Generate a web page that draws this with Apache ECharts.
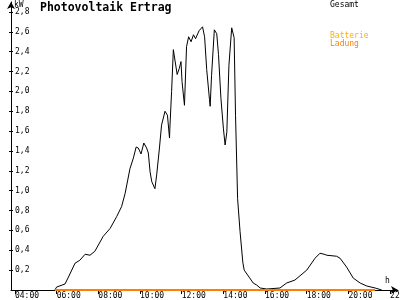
<!DOCTYPE html>
<html>
<head>
<meta charset="utf-8">
<script src="https://cdn.jsdelivr.net/npm/echarts@6/dist/echarts.min.js"></script>
<style>html,body{margin:0;padding:0;background:#fff}#c{width:400px;height:300px}</style>
</head>
<body>
<div id="c"></div>
<script>
// Gesamt (total power, kW) sample times and values
var gesamtTimes = ["05:55","06:00","06:24","06:34","06:53","07:07","07:22","07:36","07:50","08:14","08:34","08:53","09:07","09:17","09:31","09:41","09:49","09:55","10:03","10:11","10:19","10:24","10:29","10:34","10:43","10:48","10:56","11:02","11:12","11:19","11:25","11:26","11:31","11:36","11:39","11:47","11:53","11:58","12:01","12:08","12:14","12:20","12:27","12:34","12:40","12:50","13:00","13:06","13:12","13:20","13:22","13:26","13:34","13:41","13:46","13:53","14:00","14:05","14:10","14:16","14:24","14:31","14:35","14:41","14:48","14:56","15:00","15:14","15:26","15:36","15:46","16:05","16:43","17:02","17:26","18:00","18:24","18:38","18:50","18:58","19:26","19:36","19:55","20:14","20:34","20:53","21:17","21:36"];
var gesamtValues = [0,0.03,0.06,0.13,0.27,0.30,0.36,0.35,0.39,0.54,0.62,0.74,0.84,0.97,1.22,1.33,1.44,1.43,1.37,1.48,1.43,1.38,1.19,1.09,1.02,1.16,1.43,1.66,1.80,1.76,1.53,1.63,2.00,2.42,2.40,2.17,2.23,2.30,2.10,1.86,2.45,2.55,2.50,2.57,2.53,2.61,2.65,2.55,2.22,1.92,1.85,2.16,2.62,2.58,2.37,1.93,1.63,1.46,1.59,2.26,2.64,2.54,1.76,0.92,0.59,0.28,0.20,0.13,0.07,0.05,0.02,0.01,0.02,0.07,0.10,0.20,0.32,0.37,0.36,0.35,0.34,0.32,0.23,0.12,0.07,0.04,0.02,0];
// Batterie Ladung (battery charge) sample times and values
var ladungTimes = ["05:55","21:17"];
var ladungValues = [0,0];
// Tick labels
var xTickHours = [4,6,8,10,12,14,16,18,20,22];
var yTickValues = [0.2,0.4,0.6,0.8,1.0,1.2,1.4,1.6,1.8,2.0,2.2,2.4,2.6,2.8];

function toHours(s){var p=s.split(':');return +p[0]+(+p[1])/60;}
function pairs(ts,vs){return ts.map(function(t,i){return [toHours(t),vs[i]];});}
function hhmm(v){var h=Math.round(v);return (h<10?'0':'')+h+':00';}

var FONT='DejaVu Sans Mono';
var chart=echarts.init(document.getElementById('c'),null,{renderer:'canvas'});
chart.setOption({
  animation:false,
  backgroundColor:'#fff',
  grid:{left:11,right:2,top:2,bottom:10,containLabel:false,outerBoundsMode:'none'},
  xAxis:{
    type:'value',min:3.81,max:22.38,
    axisLine:{show:true,lineStyle:{color:'#000',width:1},symbol:['none','arrow'],symbolSize:[6,7]},
    axisTick:{show:true,length:4,lineStyle:{color:'#000'},customValues:xTickHours},
    axisLabel:{show:true,customValues:xTickHours,formatter:hhmm,align:'left',margin:2,color:'#000',fontFamily:FONT,fontSize:8,verticalAlign:'top',hideOverlap:false},
    splitLine:{show:false}
  },
  yAxis:[{
    type:'value',min:0,max:2.9,
    axisLine:{show:true,lineStyle:{color:'#000',width:1},symbol:['none','arrow'],symbolSize:[6,7]},
    axisTick:{show:true,length:2,lineStyle:{color:'#000'},customValues:yTickValues},
    axisLabel:{show:true,inside:true,customValues:yTickValues,margin:4,color:'#000',fontFamily:FONT,fontSize:8,
      formatter:function(v){return v.toFixed(1).replace('.',',');}},
    splitLine:{show:false}
  },{
    type:'value',min:0,max:2.9,position:'left',
    axisLine:{show:false},
    axisTick:{show:true,inside:true,length:2,lineStyle:{color:'#000'},customValues:yTickValues},
    axisLabel:{show:false},splitLine:{show:false}
  }],
  series:[{
    name:'Gesamt',type:'line',data:pairs(gesamtTimes,gesamtValues),
    showSymbol:false,symbol:'none',lineStyle:{color:'#000',width:1},z:3
  },{
    name:'Ladung',type:'line',data:pairs(ladungTimes,ladungValues),
    showSymbol:false,symbol:'none',lineStyle:{color:'#ff8000',width:2},z:4
  }],
  graphic:[
    {type:'text',left:40,top:2,style:{text:'Photovoltaik Ertrag',fill:'#000',font:'bold 11.5px "DejaVu Sans Mono"'}},
    {type:'text',left:14,top:1,style:{text:'kW',fill:'#000',font:'8px "DejaVu Sans Mono"'}},
    {type:'text',left:330,top:1,style:{text:'Gesamt',fill:'#000',font:'8px "DejaVu Sans Mono"'}},
    {type:'text',left:330,top:32,style:{text:'Batterie',fill:'#ffb000',font:'8px "DejaVu Sans Mono"'}},
    {type:'text',left:330,top:40,style:{text:'Ladung',fill:'#ff8000',font:'8px "DejaVu Sans Mono"'}},
    {type:'text',left:385,top:277,style:{text:'h',fill:'#000',font:'8px "DejaVu Sans Mono"'}}
  ]
});
</script>
</body>
</html>
